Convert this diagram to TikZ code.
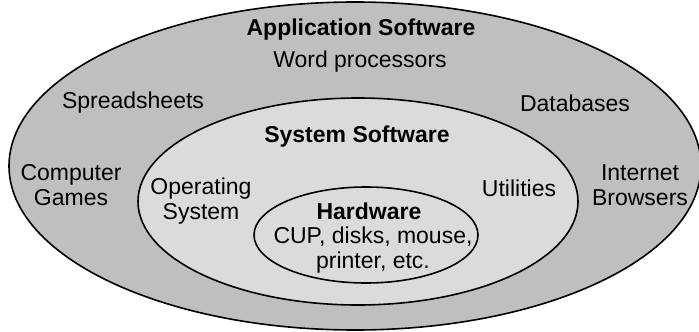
\documentclass[tikz,border=0pt]{standalone}
\usepackage{fontspec}
\setmainfont{Liberation Sans}
\begin{document}
\begin{tikzpicture}[x=1pt,y=-1pt,
  layer/.style={draw=black,line width=1.6pt},
  lbl/.style={font=\fontsize{23}{25}\selectfont,align=center,inner sep=0pt},
  head/.style={lbl,font=\fontsize{23}{25}\selectfont\bfseries}]
\useasboundingbox (0,0) rectangle (699,332);
% nested layers
\draw[layer,fill=black!25] (355,166) ellipse [x radius=346,y radius=164];
\draw[layer,fill=black!14] (358,201.5) ellipse [x radius=220,y radius=103.5];
\draw[layer,fill=black!14] (366,235) ellipse [x radius=112,y radius=48];
% application software
\node[head] (app) at (361,30) {Application Software};
\node[lbl] (word) at (360,62) {Word processors};
\node[lbl] (sheet) at (133,103) {Spreadsheets};
\node[lbl] (db) at (575,103) {Databases};
\node[lbl] (games) at (71,185) {Computer\\Games};
\node[lbl] (web) at (640,185) {Internet\\Browsers};
% system software
\node[head] (sys) at (357,137) {System Software};
\node[lbl] (os) at (201,201) {Operating\\System};
\node[lbl] (util) at (519,188) {Utilities};
% hardware
\node[head] (hw) at (369,211) {Hardware};
\node[lbl] (parts) at (373,250) {CUP, disks, mouse,\\printer, etc.};
\end{tikzpicture}
\end{document}
